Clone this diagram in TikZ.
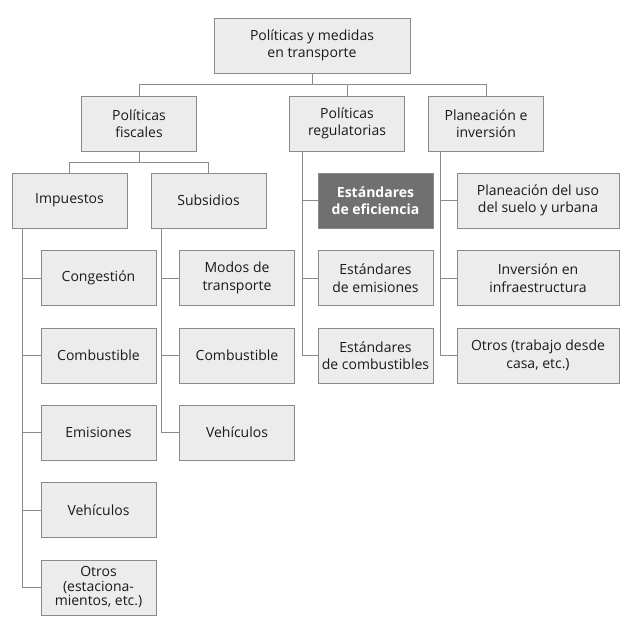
\documentclass[tikz,border=0pt]{standalone}
\usepackage{fontspec}
\setmainfont{Open Sans}
\usetikzlibrary{positioning}
\definecolor{boxfill}{HTML}{ECECEC}
\definecolor{boxline}{HTML}{8A8A8A}
\definecolor{darkfill}{HTML}{707070}
\definecolor{ink}{HTML}{1A1A1A}
\tikzset{
  box/.style={draw=boxline, fill=boxfill, line width=1pt, align=center, inner sep=1pt,
    text=ink, minimum width=115pt, minimum height=55pt, font=\fontsize{14}{17.5}\selectfont},
  widebox/.style={box, minimum width=162pt},
  darkbox/.style={box, fill=darkfill, text=white, font=\fontsize{14}{17.5}\selectfont\bfseries},
  link/.style={draw=boxline, line width=0.9pt}
}
\begin{document}
\begin{tikzpicture}[x=1pt, y=-1pt]
  \useasboundingbox (0,0) rectangle (634,632);
  % nivel 1
  \node[box, minimum width=196pt] (top) at (312,45.5) {Políticas y medidas\\en transporte};
  % nivel 2
  \node[box] (fis) at (139,123.5) {Políticas\\fiscales};
  \node[box] (reg) at (347,123.5) {Políticas\\regulatorias};
  \node[box] (pla) at (486,123.5) {Planeación e\\inversión};
  % nivel 3
  \node[box] (imp) at (69.5,200.5) {Impuestos};
  \node[box] (sub) at (208.5,200.5) {Subsidios};
  \node[darkbox] (efi) at (375.5,200.5) {Estándares\\de eficiencia};
  \node[box] (emi) at (375.5,278) {Estándares\\de emisiones};
  \node[box] (com) at (375.5,355.5) {Estándares\\de combustibles};
  \node[widebox] (uso) at (538,200.5) {Planeación del uso\\del suelo y urbana};
  \node[widebox] (inf) at (538,278) {Inversión en\\infraestructura};
  \node[widebox] (otp) at (538,355.5) {Otros (trabajo desde\\casa, etc.)};
  % impuestos
  \node[box] (icon) at (98.5,278) {Congestión};
  \node[box] (icom) at (98.5,355.5) {Combustible};
  \node[box] (iemi) at (98.5,432.5) {Emisiones};
  \node[box] (iveh) at (98.5,510) {Vehículos};
  \node[box, font=\fontsize{14}{14.5}\selectfont] (iotr) at (98.5,587.5) {Otros\\(estaciona-\\mientos, etc.)};
  % subsidios
  \node[box] (smod) at (237,278) {Modos de\\transporte};
  \node[box] (scom) at (237,355.5) {Combustible};
  \node[box] (sveh) at (237,432.5) {Vehículos};
  % conectores
  \draw[link] (top.south) -- ++(0,11) coordinate (t1);
  \draw[link] (t1) -| (fis.north);
  \draw[link] (t1) -| (reg.north);
  \draw[link] (t1) -| (pla.north);
  \draw[link] (fis.south) -- ++(0,11) coordinate (f1);
  \draw[link] (f1) -| (imp.north);
  \draw[link] (f1) -| (sub.north);
  \foreach \n in {icon,icom,iemi,iveh,iotr}
    \draw[link] ([xshift=11pt]imp.south west) |- (\n.west);
  \foreach \n in {smod,scom,sveh}
    \draw[link] ([xshift=11pt]sub.south west) |- (\n.west);
  \foreach \n in {efi,emi,com}
    \draw[link] ([xshift=13pt]reg.south west) |- (\n.west);
  \foreach \n in {uso,inf,otp}
    \draw[link] ([xshift=12pt]pla.south west) |- (\n.west);
\end{tikzpicture}
\end{document}
